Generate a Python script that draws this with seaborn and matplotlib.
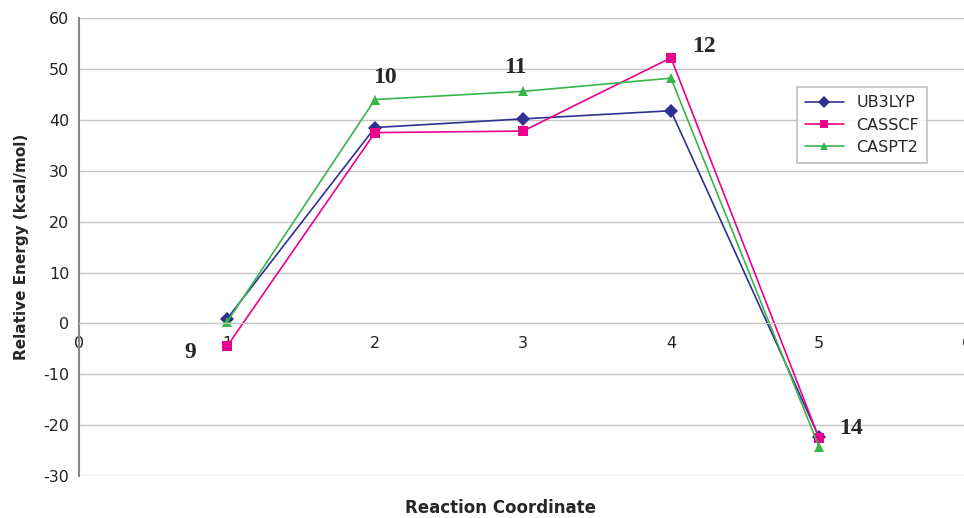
import matplotlib
matplotlib.use('Agg')
import matplotlib.pyplot as plt
import seaborn as sns
import pandas as pd

coord = [1, 2, 3, 4, 5]
ub3lyp = [0.9, 38.5, 40.2, 41.8, -22.3]
casscf = [-4.5, 37.5, 37.8, 52.2, -22.5]
caspt2 = [0.3, 44.0, 45.6, 48.2, -24.2]
methods = ['UB3LYP', 'CASSCF', 'CASPT2']

# structure labels
lbl_text = ['9', '10', '11', '12', '14']
lbl_x = [0.75, 2.07, 2.95, 4.22, 5.22]
lbl_y = [-5.8, 48.3, 50.3, 54.4, -20.7]

df = pd.DataFrame({
    'x': coord * 3,
    'E': ub3lyp + casscf + caspt2,
    'method': [m for m in methods for _ in coord],
})

sns.set_style('white')
plt.rcParams['font.family'] = ['DejaVu Sans']
plt.rcParams['axes.unicode_minus'] = False
fig = plt.figure(figsize=(9.64, 5.18), dpi=100)
ax = fig.add_axes([0.082, 0.081, 0.921, 0.884])

pal = {'UB3LYP': '#2E3192', 'CASSCF': '#EC008C', 'CASPT2': '#39B54A'}
mk = {'UB3LYP': 'D', 'CASSCF': 's', 'CASPT2': '^'}
sns.lineplot(data=df, x='x', y='E', hue='method', style='method',
             palette=pal, markers=mk, dashes=False, markersize=7,
             markeredgewidth=0, linewidth=1.2, ax=ax, legend=True)

ax.set_xlim(0, 6)
ax.set_ylim(-30, 60)
ax.set_yticks(range(-30, 61, 10))
ax.set_xticks(range(0, 7))
for y in range(-30, 61, 10):
    ax.axhline(y, color='#c4c4c4', linewidth=1, zorder=0)

for s in ['top', 'right']:
    ax.spines[s].set_visible(False)
ax.spines['bottom'].set_position(('data', 0))
ax.spines['bottom'].set_color('#c4c4c4')
ax.spines['left'].set_color('#888888')
ax.spines['left'].set_linewidth(1.5)
ax.tick_params(axis='both', labelsize=11.5, colors='#222222')
ax.tick_params(axis='x', direction='out', length=4, color='#999999', pad=5)
ax.tick_params(axis='y', direction='out', length=4, color='#999999', pad=3)

ax.set_xlabel('Reaction Coordinate', fontsize=12, fontweight='bold')
ax.set_ylabel('Relative Energy (kcal/mol)', fontsize=11, fontweight='bold')
ax.xaxis.set_label_coords(0.475, -0.051)
ax.yaxis.set_label_coords(-0.056, 0.5)

for t, x, y in zip(lbl_text, lbl_x, lbl_y):
    ax.text(x, y, t, fontsize=17, fontweight='bold', family='Liberation Serif',
            ha='center', va='center')

leg = ax.legend(loc='upper left', bbox_to_anchor=(0.80, 0.866), frameon=True,
                fancybox=False, edgecolor='#b0b0b0', fontsize=11.5,
                handlelength=2.4, borderpad=0.5, labelspacing=0.45,
                markerscale=0.85)
leg.get_frame().set_linewidth(1.2)

fig.savefig('out.png', dpi=100)
